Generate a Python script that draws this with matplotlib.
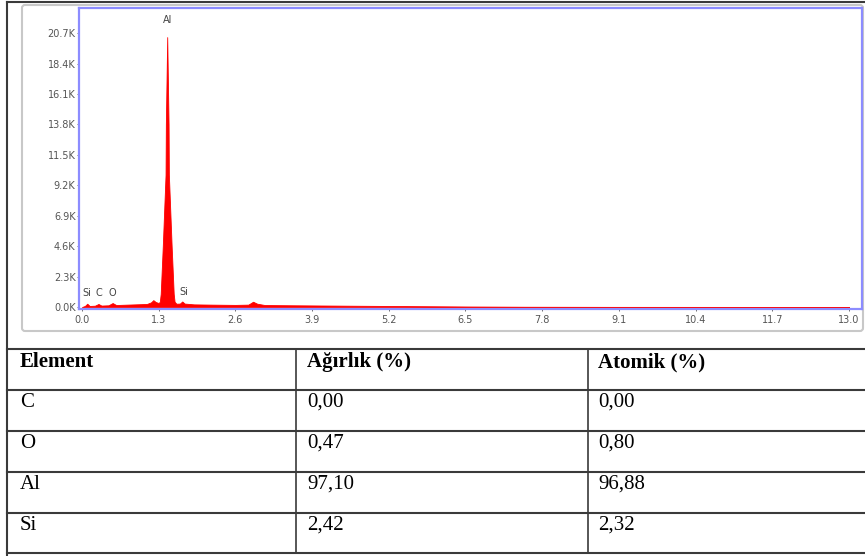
import numpy as np
import matplotlib.pyplot as plt
from matplotlib.patches import FancyBboxPatch

W, H = 865, 556

# EDS spectrum (energy keV, counts)
enerji = [0.00, 0.05, 0.09, 0.13, 0.22, 0.28, 0.33, 0.45, 0.52, 0.58, 0.70, 0.90,
          1.10, 1.17, 1.21, 1.25, 1.30, 1.32, 1.335, 1.37, 1.417, 1.422, 1.445,
          1.468, 1.473, 1.52, 1.555, 1.57, 1.60, 1.66, 1.70, 1.74, 1.90, 2.20,
          2.60, 2.82, 2.90, 2.97, 3.10, 3.60, 4.50, 5.50, 6.50, 7.50, 9.00, 13.0]
sayim = [0, 80, 250, 80, 100, 230, 110, 130, 300, 150, 170, 200,
         230, 350, 520, 380, 300, 400, 1000, 4600, 10000, 13800, 20400,
         13800, 10000, 4600, 1000, 400, 250, 260, 420, 260, 200, 180,
         160, 180, 400, 250, 150, 130, 100, 70, 40, 20, 10, 5]

pik_adlari = ["Si", "C", "O", "Al", "Si"]
pik_enerji = [0.09, 0.28, 0.52, 1.45, 1.73]
pik_yukseklik = [1060, 1060, 1060, 21700, 1120]

x_ticks = [0.0, 1.3, 2.6, 3.9, 5.2, 6.5, 7.8, 9.1, 10.4, 11.7, 13.0]
y_ticks = [0, 2300, 4600, 6900, 9200, 11500, 13800, 16100, 18400, 20700]

basliklar = ["Element", "Ağırlık (%)", "Atomik (%)"]
elementler = ["C", "O", "Al", "Si"]
agirlik = ["0,00", "0,47", "97,10", "2,42"]
atomik = ["0,00", "0,80", "96,88", "2,32"]

fig = plt.figure(figsize=(W / 100, H / 100), dpi=100)
fig.patch.set_facecolor("white")

# overlay in pixel coords
bg = fig.add_axes([0, 0, 1, 1])
bg.set_xlim(0, W)
bg.set_ylim(H, 0)
bg.axis("off")

bg.add_patch(FancyBboxPatch((22, 5), 841, 326, boxstyle="round,pad=0,rounding_size=3",
                            fc="white", ec="#c8c8c8", lw=1.5))

koyu = "#3a3a3a"
bg.plot([7, 7], [2, H], color=koyu, lw=1.5)
bg.plot([7, W], [2, 2], color=koyu, lw=1.5)

satir_y = [349, 390, 431, 472, 513, 553]
sutun_x = [7, 296, 588]
metin_x = [20, 307, 598]
for y in satir_y:
    bg.plot([7, W], [y, y], color=koyu, lw=1.5)
for x in sutun_x[1:]:
    bg.plot([x, x], [satir_y[0], satir_y[-1]], color=koyu, lw=1.2)

serif = "Liberation Serif"
for j, b in enumerate(basliklar):
    bg.text(metin_x[j], satir_y[0] + 3, b, family=serif, weight="bold",
            fontsize=15, va="top", ha="left", color="black")
for i in range(len(elementler)):
    y0 = satir_y[i + 1] + 3
    for j, v in enumerate([elementler[i], agirlik[i], atomik[i]]):
        bg.text(metin_x[j], y0, v, family=serif, fontsize=15,
                va="top", ha="left", color="black")

# spectrum axes
ax = fig.add_axes([79 / W, (H - 309) / H, (862 - 79) / W, (309 - 8) / H])
ax.fill_between(enerji, sayim, 0, color="#ff0000", lw=0.6, edgecolor="#ff0000")
ax.set_xlim(-0.05, 13.22)
ax.set_ylim(-150, 22600)
ax.set_xticks(x_ticks, [f"{t:.1f}" for t in x_ticks])
ax.set_yticks(y_ticks, [f"{t / 1000:.1f}K" for t in y_ticks])
ax.tick_params(axis="both", colors="#555555", labelsize=7, length=1.5, width=0.6, pad=1)
ax.tick_params(axis="x", pad=3)
for s in ax.spines.values():
    s.set_color("#8c8cff")
    s.set_linewidth(1.6)

for ad, e, h in zip(pik_adlari, pik_enerji, pik_yukseklik):
    ax.text(e, h, ad, fontsize=7, color="#444444", ha="center", va="center")

fig.savefig("out.png", dpi=100)
